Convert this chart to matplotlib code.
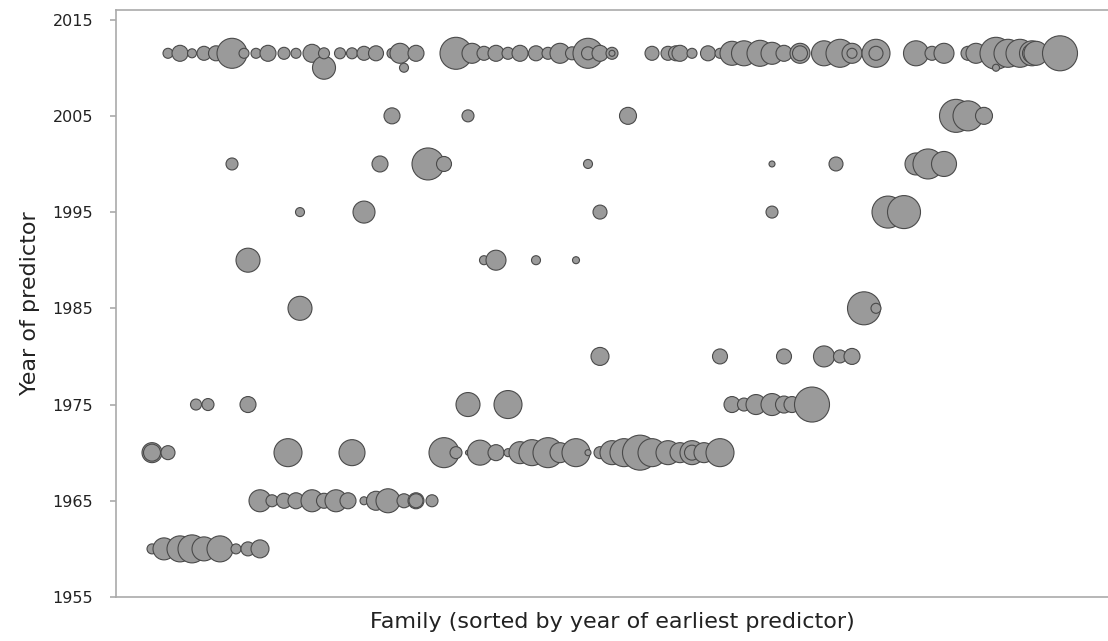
import numpy as np
import matplotlib
matplotlib.use("Agg")
import matplotlib.pyplot as plt

# position along the sorted family axis, year of predictor, bubble diameter (px)
# one small list per row of the chart
fam_2011 = [13, 16, 19, 22, 25, 29, 32, 35, 38, 42, 45, 49, 52, 56, 59, 62, 65, 69, 71, 75,
            85, 89, 92, 95, 98, 101, 105, 108, 111, 114, 118, 118, 121, 124, 124,
            134, 138, 141, 140, 144, 148, 151, 154, 157, 161, 164, 167, 171, 171,
            177, 181, 184, 184, 190, 190, 200, 204, 207, 213, 215, 220, 223, 226,
            229, 229, 230, 236]
size_2011 = [10, 16, 9, 14, 15, 30, 10, 10, 16, 12, 10, 18, 11, 11, 11, 14, 15, 10, 20, 16,
             32, 20, 14, 16, 12, 16, 15, 12, 20, 13, 30, 13, 16, 12, 6,
             14, 14, 16, 15, 10, 15, 10, 24, 25, 26, 22, 16, 20, 15,
             25, 28, 20, 10, 28, 14, 25, 14, 20, 14, 20, 32, 28, 28,
             25, 19, 24, 35]

fam_2010 = [52, 72, 220]
size_2010 = [23, 9, 7]

fam_2005 = [69, 88, 128, 210, 213, 217]
size_2005 = [16, 12, 17, 33, 30, 17]

fam_2000 = [29, 66, 78, 82, 118, 164, 180, 200, 203, 207]
size_2000 = [12, 16, 32, 15, 9, 6, 14, 22, 30, 25]

fam_1995 = [46, 62, 121, 164, 193, 197]
size_1995 = [9, 22, 14, 12, 32, 33]

fam_1990 = [33, 92, 95, 105, 115]
size_1990 = [24, 9, 20, 9, 7]

fam_1985 = [46, 187, 190]
size_1985 = [24, 33, 10]

fam_1980 = [121, 151, 167, 177, 181, 184]
size_1980 = [18, 15, 15, 21, 13, 16]

fam_1975 = [20, 23, 33, 88, 98, 154, 157, 160, 164, 167, 169, 174]
size_1975 = [11, 12, 16, 24, 28, 16, 13, 20, 22, 17, 16, 35]

fam_1970 = [9, 9, 13, 43, 59, 82, 85, 88, 91, 95, 98, 101, 104, 108, 111, 115, 118, 121,
            124, 127, 131, 134, 138, 141, 144, 144, 147, 151]
size_1970 = [20, 17, 14, 28, 26, 30, 12, 5, 25, 16, 8, 22, 26, 30, 20, 28, 6, 12,
             24, 28, 35, 28, 24, 20, 24, 15, 20, 28]

fam_1965 = [36, 39, 42, 45, 49, 52, 55, 58, 62, 65, 68, 72, 75, 75, 79]
size_1965 = [22, 12, 15, 16, 22, 15, 22, 16, 8, 19, 24, 14, 16, 14, 12]

fam_1960 = [9, 12, 16, 19, 22, 26, 30, 33, 36]
size_1960 = [10, 22, 26, 28, 24, 26, 10, 14, 18]

rows = [
    (2011.5, fam_2011, size_2011),
    (2010, fam_2010, size_2010),
    (2005, fam_2005, size_2005),
    (2000, fam_2000, size_2000),
    (1995, fam_1995, size_1995),
    (1990, fam_1990, size_1990),
    (1985, fam_1985, size_1985),
    (1980, fam_1980, size_1980),
    (1975, fam_1975, size_1975),
    (1970, fam_1970, size_1970),
    (1965, fam_1965, size_1965),
    (1960, fam_1960, size_1960),
]

xs, ys, ds = [], [], []
for year, fams, sizes in rows:
    xs += list(fams)
    ys += [year] * len(fams)
    ds += list(sizes)
xs = np.array(xs, dtype=float)
ys = np.array(ys, dtype=float)
ds = np.array(ds, dtype=float)

# drawn left to right, bigger first when on the same spot
order = np.lexsort((-ds, xs))
xs, ys, ds = xs[order], ys[order], ds[order]

W, H, DPI = 1108, 641, 100
fig = plt.figure(figsize=(W / DPI, H / DPI), dpi=DPI)
ax = fig.add_axes([116 / W, 1 - 597 / H, 1 - 116 / W, (597 - 10) / H])

ax.scatter(xs, ys, s=(ds * 72 / DPI) ** 2, c="#9a9a9a", edgecolors="#4a4a4a",
           linewidths=0.8, zorder=3)

ax.set_xlim(0, (W - 116) / 4)
ax.set_ylim(1955, 2016)
ax.set_yticks([1955, 1965, 1975, 1985, 1995, 2005, 2015])
ax.set_xticks([])

for side in ["top", "left", "bottom"]:
    ax.spines[side].set_color("#aaaaaa")
    ax.spines[side].set_linewidth(1.2)
ax.spines["right"].set_visible(False)
ax.tick_params(axis="y", colors="#aaaaaa", labelcolor="#222222", labelsize=11.5,
               length=4.5, width=1.2, pad=12)

ax.set_xlabel("Family (sorted by year of earliest predictor)", fontsize=16,
              color="#222222", labelpad=11)
ax.set_ylabel("Year of predictor", fontsize=16, color="#222222", labelpad=9)

fig.savefig("out.png", dpi=DPI)
